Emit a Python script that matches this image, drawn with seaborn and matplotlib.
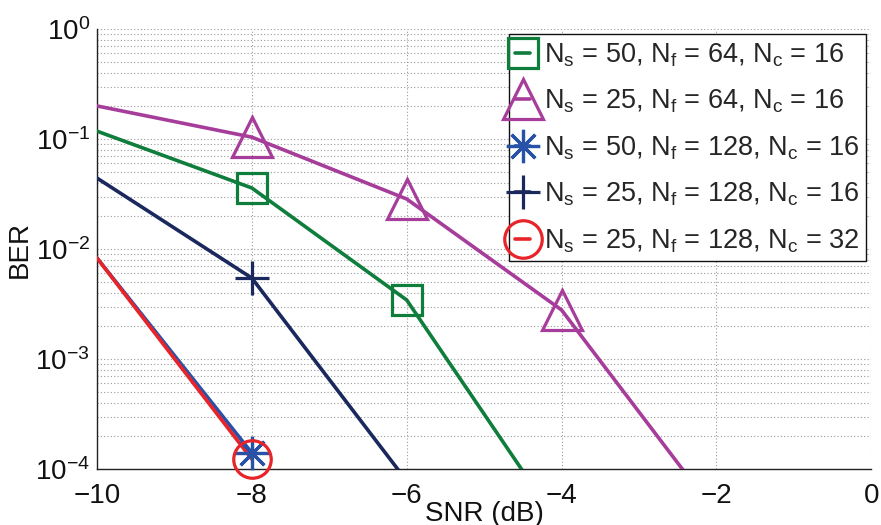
import numpy as np
import pandas as pd
import matplotlib
matplotlib.use("Agg")
import matplotlib.pyplot as plt
from matplotlib.lines import Line2D
import seaborn as sns

# ---- data ----
snr_g = [-10, -8, -6, -4]
ber_g = [0.118, 0.0359, 0.00344, 2.9e-5]
snr_m = [-10, -8, -6, -4, -2]
ber_m = [0.20, 0.104, 0.0285, 0.00279, 3.9e-5]
snr_b = [-10, -8]
ber_b = [0.0083, 1.4e-4]
snr_n = [-10, -8, -6]
ber_n = [0.0442, 0.00545, 7.8e-5]
snr_r = [-10, -8]
ber_r = [0.0083, 1.23e-4]

labels = [
    r"N$_{\rm s}$ = 50, N$_{\rm f}$ = 64, N$_{\rm c}$ = 16",
    r"N$_{\rm s}$ = 25, N$_{\rm f}$ = 64, N$_{\rm c}$ = 16",
    r"N$_{\rm s}$ = 50, N$_{\rm f}$ = 128, N$_{\rm c}$ = 16",
    r"N$_{\rm s}$ = 25, N$_{\rm f}$ = 128, N$_{\rm c}$ = 16",
    r"N$_{\rm s}$ = 25, N$_{\rm f}$ = 128, N$_{\rm c}$ = 32",
]
xticks = [-10, -8, -6, -4, -2, 0]

sns.set_style("white")
plt.rcParams["font.family"] = ["Liberation Sans", "DejaVu Sans"]
plt.rcParams["mathtext.fontset"] = "custom"
plt.rcParams["mathtext.rm"] = "Liberation Sans"
plt.rcParams["mathtext.it"] = "Liberation Sans:italic"
plt.rcParams["mathtext.bf"] = "Liberation Sans:bold"
plt.rcParams["mathtext.default"] = "regular"

FS = 20
LFS = 19.5
fig = plt.figure(figsize=(8.81, 5.25), dpi=100)
ax = fig.add_axes([0.110, 0.1067, 0.879, 0.838])

series = [
    (snr_g, ber_g, "#0f7d3c", "s", 21, 2.3),
    (snr_m, ber_m, "#a63d9b", "^", 29, 2.3),
    (snr_b, ber_b, "#2752a8", (8, 2, 0), 24, 2.3),
    (snr_n, ber_n, "#1b285e", "+", 25, 2.3),
    (snr_r, ber_r, "#e8242b", "o", 27, 2.3),
]

handles = []
for (xs, ys, col, mk, ms, lw), lab in zip(series, labels):
    df = pd.DataFrame({"snr": xs, "ber": ys})
    sns.lineplot(data=df, x="snr", y="ber", color=col, lw=2.6, ax=ax,
                 sort=False, estimator=None, zorder=3)
    # markers at points after the first, only where they lie within the axes
    mdf = df.iloc[1:]
    mdf = mdf[mdf["ber"] >= 1e-4]
    ax.plot(mdf["snr"], mdf["ber"], linestyle="none", marker=mk, ms=ms,
            mfc="none", mec=col, mew=lw, clip_on=False, zorder=4)
    handles.append(Line2D([], [], color=col, lw=2.6, marker=mk, ms=ms,
                          mfc="none", mec=col, mew=lw))

ax.set_yscale("log")
ax.set_xlim(-10, 0)
ax.set_ylim(1e-4, 1)
ax.set_xticks(xticks)
ax.set_xticklabels([("\u2212" + str(-t)) if t < 0 else str(t) for t in xticks])

ax.grid(True, which="major", axis="x", linestyle=(0, (1, 2)), color="#9a9a9a", lw=0.8)
ax.grid(True, which="both", axis="y", linestyle=(0, (1, 2)), color="#9a9a9a", lw=0.8)
for s in ["top", "right"]:
    ax.spines[s].set_visible(False)
for s in ["left", "bottom"]:
    ax.spines[s].set_color("#222222")
    ax.spines[s].set_linewidth(1.0)

ax.tick_params(axis="both", which="major", direction="in", length=5, width=1,
               labelsize=FS, colors="#222222")
ax.tick_params(axis="x", which="major", pad=10)
ax.tick_params(axis="y", which="major", pad=5)
ax.tick_params(axis="y", which="minor", direction="in", length=3, width=0.8,
               colors="#222222")
ax.tick_params(axis="x", which="minor", bottom=False)
for lab in ax.get_xticklabels() + ax.get_yticklabels():
    lab.set_color("#111111")

ax.set_xlabel("SNR (dB)", fontsize=FS, labelpad=-6, color="#111111")
ax.set_ylabel("BER", fontsize=FS, labelpad=2, color="#111111")

leg = ax.legend(handles, labels, loc="upper right", fontsize=LFS,
                frameon=True, fancybox=False, edgecolor="#111111",
                framealpha=1, borderaxespad=0.2, handlelength=0.55,
                handletextpad=0.5, labelspacing=0.7, borderpad=0.25)
leg.get_frame().set_linewidth(1.0)
leg.set_zorder(5)

fig.savefig("out.png", dpi=100)
